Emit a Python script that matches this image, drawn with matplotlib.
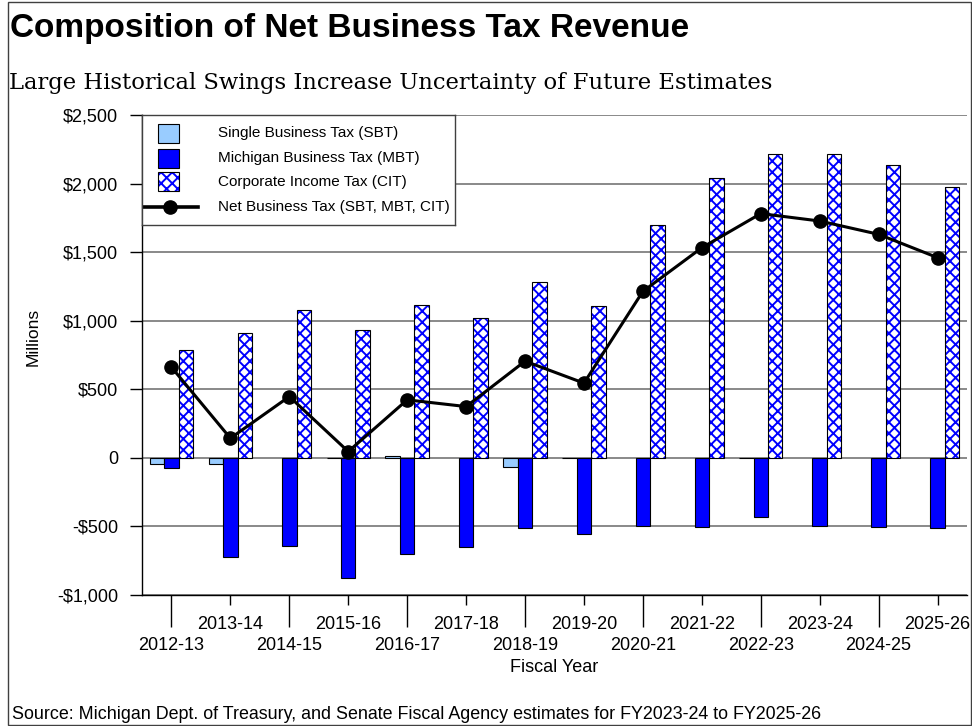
import numpy as np
import matplotlib
matplotlib.use('Agg')
import matplotlib.pyplot as plt
from matplotlib.patches import Rectangle
from matplotlib.lines import Line2D
from matplotlib.ticker import FuncFormatter

# data, millions of dollars
years = ['2012-13', '2013-14', '2014-15', '2015-16', '2016-17', '2017-18', '2018-19',
         '2019-20', '2020-21', '2021-22', '2022-23', '2023-24', '2024-25', '2025-26']
sbt = [-44, -44, 0, -4, 17, 0, -64, -4, 0, 0, -4, 0, 0, 0]
mbt = [-73, -725, -645, -879, -701, -653, -511, -555, -494, -506, -434, -494, -501, -511]
cit = [788, 912, 1080, 934, 1112, 1022, 1280, 1104, 1701, 2037, 2214, 2219, 2134, 1975]
net = [661, 143, 447, 46, 423, 374, 705, 545, 1214, 1532, 1781, 1727, 1630, 1460]

labels = ['Single Business Tax (SBT)', 'Michigan Business Tax (MBT)',
          'Corporate Income Tax (CIT)', 'Net Business Tax (SBT, MBT, CIT)']

plt.rcParams['font.family'] = ['Liberation Sans', 'DejaVu Sans']
plt.rcParams['hatch.linewidth'] = 1.4

W, H = 972, 726
fig = plt.figure(figsize=(W / 100, H / 100), dpi=100)

def fx(px):
    return px / W

def fy(py):
    return 1 - py / H

ax = fig.add_axes([fx(142), fy(595), fx(825), 480 / H])

x = np.arange(len(years))
w = 0.246
sbt_arr = np.array(sbt, dtype=float)
nz = sbt_arr != 0  # zero-height bars would still show an edge line
ax.bar(x[nz] - w, sbt_arr[nz], w, color='#99CCFF', edgecolor='black', linewidth=0.8, zorder=2)
ax.bar(x, mbt, w, color='#0000FF', edgecolor='black', linewidth=0.8, zorder=2)
# hatch in blue, outline in black -> two layers
ax.bar(x + w, cit, w, color='white', edgecolor='#0000FF', hatch='xxx', linewidth=0, zorder=2)
ax.bar(x + w, cit, w, fill=False, edgecolor='black', linewidth=0.8, zorder=2)
ax.plot(x, net, color='black', lw=2.2, marker='o', ms=9.5, zorder=3)

ax.set_xlim(-0.5, len(years) - 0.5)
ax.set_ylim(-1000, 2500)
ax.set_yticks(np.arange(-1000, 2501, 500))
ax.yaxis.set_major_formatter(FuncFormatter(
    lambda v, p: '0' if v == 0 else ('-$' if v < 0 else '$') + f'{abs(v):,.0f}'))
ax.yaxis.grid(True, color='#808080', lw=1.3)
ax.set_axisbelow(True)
for s in ['top', 'right']:
    ax.spines[s].set_visible(False)
for s in ['left', 'bottom']:
    ax.spines[s].set_color('black')
    ax.spines[s].set_linewidth(1)

ax.tick_params(axis='y', length=8.5, width=1, pad=8.5, labelsize=13)
# staggered category labels: even ones low with long ticks, odd ones high with short ticks
ax.set_xticks(x[::2], years[::2])
ax.set_xticks(x[1::2], years[1::2], minor=True)
ax.tick_params(axis='x', which='major', length=23, width=1, pad=7.6, labelsize=13)
ax.tick_params(axis='x', which='minor', length=7.2, width=1, pad=7.9, labelsize=13)

fig.text(fx(554), fy(668), 'Fiscal Year', ha='center', va='center', fontsize=13)
fig.text(fx(33), fy(337), 'Millions', ha='center', va='center', rotation=90, fontsize=12.5)

fig.text(fx(10), fy(37), 'Composition of Net Business Tax Revenue', fontsize=24,
         fontweight='bold', va='baseline', ha='left')
fig.text(fx(9), fy(89.3), 'Large Historical Swings Increase Uncertainty of Future Estimates',
         family='DejaVu Serif', fontsize=16.3, va='baseline', ha='left')
fig.text(fx(12), fy(719), 'Source: Michigan Dept. of Treasury, and Senate Fiscal Agency '
         'estimates for FY2023-24 to FY2025-26', fontsize=12.9, va='baseline', ha='left')

# legend box drawn by hand in pixel units
lax = fig.add_axes([fx(142), fy(225), fx(313), 110 / H])
lax.set_xlim(142, 455)
lax.set_ylim(225, 115)
lax.set_xticks([])
lax.set_yticks([])
for s in lax.spines.values():
    s.set_color('#404040')
    s.set_linewidth(1)
rows = [133.3, 158.3, 181.7, 206.7]
lax.add_patch(Rectangle((158, rows[0] - 9.5), 21, 19, facecolor='#99CCFF', edgecolor='black', lw=0.8))
lax.add_patch(Rectangle((158, rows[1] - 9.5), 21, 19, facecolor='#0000FF', edgecolor='black', lw=0.8))
lax.add_patch(Rectangle((158, rows[2] - 9.5), 21, 19, facecolor='white', edgecolor='#0000FF',
                        hatch='xxx', lw=0))
lax.add_patch(Rectangle((158, rows[2] - 9.5), 21, 19, fill=False, edgecolor='black', lw=0.8))
lax.add_line(Line2D([142, 198], [rows[3], rows[3]], color='black', lw=2.6))
lax.add_line(Line2D([170], [rows[3]], color='black', marker='o', ms=9.5))
for r, lab in zip(rows, labels):
    lax.text(218, r, lab, va='center', ha='left', fontsize=11)

# outer frame
fig.patches.append(Rectangle((fx(7.5), fy(725)), fx(963), (723 / H), transform=fig.transFigure,
                             fill=False, edgecolor='#404040', lw=1))

fig.savefig('out.png', dpi=100)
